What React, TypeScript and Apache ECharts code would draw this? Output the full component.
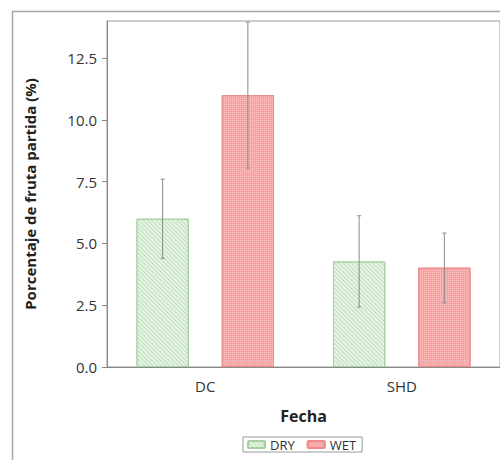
import React, { useEffect, useRef } from "react";
import * as echarts from "echarts";

const categories = ["DC", "SHD"];
const dryValues = [6.0, 4.27];
const wetValues = [11.0, 4.02];
const dryLow = [4.4, 2.43];
const dryHigh = [7.6, 6.12];
const wetLow = [8.05, 2.6];
const wetHigh = [13.95, 5.42];
const yTicks = [0, 2.5, 5, 7.5, 10, 12.5];

const BAR_CAT_GAP = 0.3;
const BAR_GAP = 0.63;

function errorSeries(low: number[], high: number[], side: number) {
  return {
    type: "custom",
    silent: true,
    z: 5,
    data: low.map((l, i) => [i, l, high[i]]),
    encode: { x: 0, y: [1, 2] },
    renderItem: (params: any, api: any) => {
      const idx = api.value(0);
      const lo = api.coord([idx, api.value(1)]);
      const hi = api.coord([idx, api.value(2)]);
      const bw = api.size([1, 0])[0];
      const barW = (bw * (1 - BAR_CAT_GAP)) / (2 + BAR_GAP);
      const off = (barW * (1 + BAR_GAP)) / 2;
      const x = lo[0] + side * off;
      const cap = 2;
      const style = { stroke: "#8a8a8a", lineWidth: 1 };
      return {
        type: "group",
        children: [
          { type: "line", shape: { x1: x, y1: lo[1], x2: x, y2: hi[1] }, style },
          { type: "line", shape: { x1: x - cap, y1: hi[1], x2: x + cap, y2: hi[1] }, style },
          { type: "line", shape: { x1: x - cap, y1: lo[1], x2: x + cap, y2: lo[1] }, style },
        ],
      };
    },
  };
}

export default function App() {
  const ref = useRef<HTMLDivElement>(null);
  useEffect(() => {
    const chart = echarts.init(ref.current!, undefined, { renderer: "svg" });
    const font = "'Open Sans', 'Noto Sans', sans-serif";
    chart.setOption({
      animation: false,
      textStyle: { fontFamily: font },
      graphic: [
        {
          type: "rect",
          shape: { x: 12.5, y: 11.5, width: 600, height: 600 },
          style: { fill: "none", stroke: "#a8a8a8", lineWidth: 1.5 },
          silent: true,
        },
      ],
      grid: {
        left: 107,
        top: 21,
        width: 394,
        height: 346,
        show: true,
        borderColor: "#9a9a9a",
        borderWidth: 1,
        containLabel: false,
      },
      legend: {
        left: 243,
        top: 437,
        data: ["DRY", "WET"],
        borderColor: "#999",
        borderWidth: 1,
        borderRadius: 0,
        padding: [1, 6, 1, 4],
        itemWidth: 17,
        itemHeight: 7,
        itemGap: 12,
        textStyle: { fontSize: 13, color: "#333", fontFamily: font },
      },
      xAxis: {
        type: "category",
        data: categories,
        name: "Fecha",
        nameLocation: "middle",
        nameGap: 41,
        nameTextStyle: { fontSize: 16, fontWeight: "bold", color: "#222" },
        axisLine: { lineStyle: { color: "#888" } },
        axisTick: { alignWithLabel: true, length: 6, lineStyle: { color: "#888" } },
        axisLabel: { fontSize: 15, color: "#333", margin: 11 },
        splitLine: { show: false },
      },
      yAxis: {
        type: "value",
        min: 0,
        max: 14,
        interval: 2.5,
        name: "Porcentaje de fruta partida (%)",
        nameLocation: "middle",
        nameGap: 70,
        nameTextStyle: { fontSize: 15, fontWeight: "bold", color: "#222" },
        axisLine: { show: true, lineStyle: { color: "#888" } },
        axisTick: { show: true, length: 5, lineStyle: { color: "#888" } },
        axisLabel: {
          fontSize: 15,
          color: "#333",
          margin: 10,
          showMaxLabel: false,
          formatter: (v: number) => (yTicks.includes(v) ? v.toFixed(1) : ""),
        },
        splitLine: { show: false },
      },
      series: [
        {
          name: "DRY",
          type: "bar",
          data: dryValues,
          barCategoryGap: "30%",
          barGap: "63%",
          itemStyle: {
            color: "#e8f4e6",
            borderColor: "#a6d2a2",
            borderWidth: 1,
            decal: {
              symbol: "rect",
              symbolSize: 1,
              dashArrayX: [1, 0],
              dashArrayY: [1, 2],
              rotation: Math.PI / 4,
              color: "rgba(150,205,145,0.55)",
            },
          },
        },
        {
          name: "WET",
          type: "bar",
          data: wetValues,
          itemStyle: {
            color: "#f7a3a3",
            borderColor: "#ee8a8a",
            borderWidth: 1,
            decal: {
              symbol: "rect",
              symbolSize: 1,
              dashArrayX: [1, 1],
              dashArrayY: [1, 1],
              color: "rgba(255,225,225,0.5)",
            },
          },
        },
        errorSeries(dryLow, dryHigh, -1),
        errorSeries(wetLow, wetHigh, 1),
      ],
    });
    return () => chart.dispose();
  }, []);
  return <div ref={ref} style={{ width: 500, height: 460, position: "absolute", left: 0, top: 0 }} />;
}
